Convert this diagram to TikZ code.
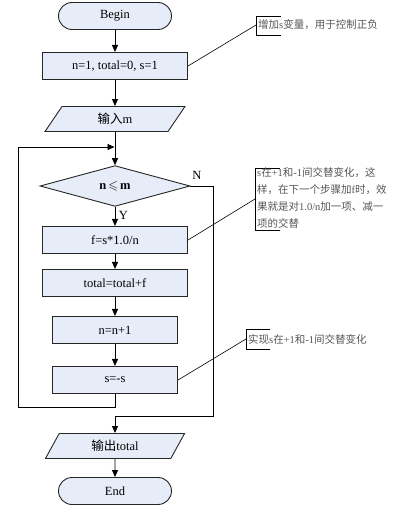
\documentclass[tikz,border=0pt]{standalone}
\usepackage{amssymb}
\usepackage{fontspec}
\setmainfont{Liberation Serif}
\newfontfamily\cjk{Noto Sans CJK SC}
\newcommand{\zh}[1]{{\cjk #1}}
\usetikzlibrary{positioning,shapes.geometric,arrows.meta}
\definecolor{boxfill}{RGB}{230,237,248}
\definecolor{notegray}{RGB}{85,85,85}
\begin{document}
\begin{tikzpicture}[x=1pt, y=-1pt,
                    every node/.style={font=\fontsize{12.5}{15}\selectfont},
                    procbox/.style={rectangle, draw=black!85, line width=1.1pt, fill=boxfill, minimum height=27pt},
                    termbox/.style={rectangle, rounded corners=13.5pt, draw=black!85, line width=0.9pt, fill=boxfill, minimum width=113pt, minimum height=27pt},
                    iobox/.style={trapezium, trapezium left angle=70, trapezium right angle=110, trapezium stretches=true, draw=black!85, line width=0.9pt, fill=boxfill, minimum width=140pt, minimum height=25pt},
                    decbox/.style={diamond, draw=black!85, line width=0.9pt, fill=boxfill, minimum width=150pt, minimum height=38pt, inner sep=0pt},
                    flow/.style={draw, line width=0.9pt, -{Triangle[length=7pt,width=6pt]}},
                    noteline/.style={draw, line width=0.6pt},
                    notetext/.style={font=\fontsize{10.5}{17}\selectfont, text=notegray, inner sep=0pt, align=left}
                ]
                \useasboundingbox (0,0) rectangle (407,516);

                % Main flow
                \node[termbox] (begin) at (115,16) {Begin};
                \node[procbox, minimum width=145pt] (init) at (115,66) {n=1, total=0, s=1};
                \node[iobox] (input) at (115,119) {\zh{输入}m};
                \node[decbox] (cond) at (115,186) {\textbf{n}$\,\leqslant\,$\textbf{m}};
                \node[procbox, minimum width=145pt] (calc) at (115,240) {f=s*1.0/n};
                \node[procbox, minimum width=145pt] (sum) at (115,283) {total=total+f};
                \node[procbox, minimum width=125pt] (inc) at (115,330) {n=n+1};
                \node[procbox, minimum width=125pt] (flip) at (115,380) {s=-s};
                \node[iobox] (output) at (115,446) {\zh{输出}total};
                \node[termbox] (end) at (115,491) {End};

                % Loop corners
                \coordinate (join) at (115,147);
                \coordinate (back) at (18,147);
                \coordinate (exit) at (213,186);
                \coordinate (merge) at (115,416);

                % Connections
                \draw[flow] (begin) -- (init);
                \draw[flow] (init) -- (input);
                \draw[line width=0.9pt] (input) -- (join);
                \draw[flow] (join) -- (cond);
                \draw[flow] (cond) -- node[right, pos=0.45] {Y} (calc);
                \draw[flow] (calc) -- (sum);
                \draw[flow] (sum) -- (inc);
                \draw[flow] (inc) -- (flip);
                \draw[flow] (flip.south) -- ++(0,13) -| (back) -- ([xshift=-0.5pt]join);
                \draw[line width=0.9pt] (cond.east) -- (exit) |- (merge);
                \draw[flow] (merge) -- (output);
                \node at (197,175) {N};
                \draw[flow] (output) -- (end);

                % Notes
                \coordinate (n1) at (256,25);
                \draw[noteline] (281,16) -| (256,35) -- (281,35);
                \node[notetext, anchor=west] (note1) at (258,25) {\zh{增加}s\zh{变量，用于控制正负}};
                \draw[noteline] (init.east) -- (n1);

                \coordinate (n2) at (255,199);
                \draw[noteline] (280,168) -| (255,230) -- (280,230);
                \node[notetext, anchor=north west] (note2) at (257,167) {s\zh{在}+1\zh{和}-1\zh{间交替变化，这}\\\zh{样，在下一个步骤加}f\zh{时，效}\\\zh{果就是对}1.0/n\zh{加一项、减一}\\\zh{项的交替}};
                \draw[noteline] (calc.east) -- (n2);

                \coordinate (n3) at (246,339);
                \draw[noteline] (270,329) -| (246,349) -- (270,349);
                \node[notetext, anchor=west] (note3) at (248,339) {\zh{实现}s\zh{在}+1\zh{和}-1\zh{间交替变化}};
                \draw[noteline] (flip.east) -- (n3);
            \end{tikzpicture}
\end{document}
